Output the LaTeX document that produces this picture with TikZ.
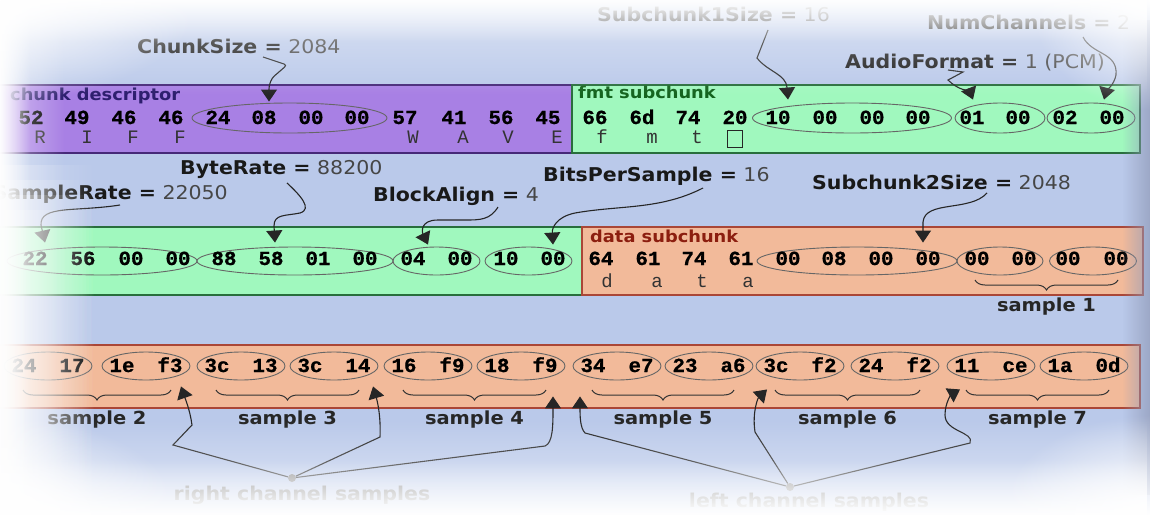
\documentclass[tikz,border=0pt]{standalone}
\usepackage{fontspec}
\usetikzlibrary{shapes.geometric,arrows.meta,decorations.pathreplacing,fadings,calc}
\newfontfamily\hexfont{Liberation Mono}
\newfontfamily\hexbold[FakeBold=0.7, FakeStretch=1.04]{Liberation Mono Bold}
\newfontfamily\lblfont[FakeStretch=1.08]{DejaVu Sans}

\definecolor{bgblue}{RGB}{186,201,234}
\definecolor{riffpurple}{RGB}{168,128,228}
\definecolor{fmtgreen}{RGB}{160,248,190}
\definecolor{datasalmon}{RGB}{242,186,154}
\definecolor{riffedge}{RGB}{70,40,120}
\definecolor{fmtedge}{RGB}{40,110,60}
\definecolor{dataedge}{RGB}{170,70,55}
\definecolor{riffink}{RGB}{45,30,110}
\definecolor{fmtink}{RGB}{20,100,30}
\definecolor{dataink}{RGB}{140,30,15}
\definecolor{valgray}{RGB}{70,70,70}
\definecolor{shadowgray}{RGB}{145,155,185}

% soft white border fadings
\tikzfading[name=fadetop, top color=transparent!0, bottom color=transparent!100]
\tikzfading[name=fadebottom, top color=transparent!100, bottom color=transparent!0]
\tikzfading[name=fadeleft, left color=transparent!0, right color=transparent!100]
\tikzfading[name=faderight, left color=transparent!100, right color=transparent!0]
\tikzfading[name=fadecorner, inner color=transparent!0, outer color=transparent!100]

\tikzset{
  box/.style={draw, line width=1.4pt, anchor=north west, inner sep=0, outer sep=0},
  hex/.style={font=\hexbold\fontsize{20}{20}\selectfont, inner sep=0, anchor=base, text=black},
  asc/.style={font=\hexfont\fontsize{19}{19}\selectfont, inner sep=0, anchor=base, text=black!80},
  fld/.style={ellipse, draw=black!60, line width=0.9pt, inner sep=0, minimum height=28},
  lbl/.style={font=\lblfont\fontsize{19}{19}\selectfont, inner sep=0, text=black!90, anchor=base west},
  hdr/.style={font=\lblfont\bfseries\fontsize{16.5}{16.5}\selectfont, inner sep=0, anchor=base west},
  smp/.style={font=\lblfont\bfseries\fontsize{18}{18}\selectfont, inner sep=0, anchor=base, text=black!85},
  chn/.style={font=\lblfont\bfseries\fontsize{19}{19}\selectfont, inner sep=0, anchor=base, text=black!60},
  conn/.style={draw=black!85, line width=1.1pt, -{Triangle[width=16pt,length=12pt]}},
  brc/.style={draw=black!80, line width=1pt, decorate, decoration={brace, mirror, amplitude=10pt}},
  dot/.style={circle, fill=black!50, inner sep=0, minimum size=8}
}

\begin{document}
\begin{tikzpicture}[x=1pt,y=-1pt]
\useasboundingbox (0,0) rectangle (1150,515);
\clip (0,0) rectangle (1150,515);
\fill[bgblue] (0,0) rectangle (1150,515);

% ---------- row 1: RIFF chunk descriptor + fmt subchunk ----------
\node[box, fill=riffpurple, draw=riffedge, minimum width=577, minimum height=68] (riff) at (-5,85) {};
\node[box, fill=fmtgreen, draw=fmtedge, minimum width=568, minimum height=68] (fmt) at (572,85) {};
\node[hdr, text=riffink] (riffhdr) at (10,100) {chunk descriptor};
\node[hdr, text=fmtink] (fmthdr) at (578,98) {fmt subchunk};

\node[fld, minimum width=195, minimum height=30] (f-chunksize) at (289.5,118) {};
\node[fld, minimum width=199, minimum height=30] (f-sub1size) at (852,118) {};
\node[fld, minimum width=90, minimum height=30] (f-audiofmt) at (1000,118) {};
\node[fld, minimum width=88, minimum height=30] (f-numch) at (1091,118) {};

\foreach \x/\t [count=\i] in {31/52, 77/49, 124/46, 171/46, 218/24, 264/08, 311/00, 357/00,
  405/57, 454/41, 501/56, 548/45, 595/66, 642/6d, 688/74, 735/20, 778/10, 825/00, 872/00,
  918/00, 972/01, 1018/00, 1065/02, 1112/00}
  \node[hex] (ra\i) at (\x,124) {\t};
\foreach \x/\t [count=\i] in {40/R, 87/I, 133/F, 180/F, 413/W, 463/A, 508/V, 557/E, 602/f, 652/m, 697/t}
  \node[asc] (rc\i) at (\x,143) {\t};
\node[draw=black!85, line width=1pt, minimum width=15, minimum height=17, inner sep=0] (spc) at (734.5,138.5) {};

\node[lbl] (chunksize) at (137,53) {\textbf{ChunkSize =} \textcolor{valgray}{2084}};
\node[lbl] (sub1size) at (597,21) {\textbf{Subchunk1Size =} \textcolor{valgray}{16}};
\node[lbl] (numch) at (927,29) {\textbf{NumChannels =} \textcolor{valgray}{2}};
\node[lbl] (audiofmt) at (845,68) {\textbf{AudioFormat =} \textcolor{valgray}{1 (PCM)}};

\draw[conn, rounded corners=3] ([shift={(126,4)}]chunksize.base west) -- (287,65) -- (272,78) -- (269,86)
  -- ([shift={(-20.5,-1)}]f-chunksize.north);
\draw[conn] ([shift={(171,9)}]sub1size.base west) -- (757,58) .. controls (768,72) and (786,74)
  .. ([shift={(-64,-3)}]f-sub1size.north);
\draw[conn] ([shift={(103,2)}]audiofmt.base west) -- (963,72) -- (948,80) .. controls (958,90) and (970,92)
  .. ([shift={(-27,-3)}]f-audiofmt.north);
\draw[conn] ([shift={(156,8)}]numch.base west) .. controls (1092,55) and (1118,52) .. (1116,75)
  .. controls (1114,85) and (1106,92) .. ([shift={(13,-3)}]f-numch.north);

% ---------- row 2: rest of fmt subchunk + data subchunk ----------
\node[box, fill=fmtgreen, draw=fmtedge, minimum width=587, minimum height=68] (fmt2) at (-5,227) {};
\node[box, fill=datasalmon, draw=dataedge, minimum width=561, minimum height=68] (data) at (582,227) {};
\node[hdr, text=dataink] (datahdr) at (590,242) {data subchunk};

\node[fld, minimum width=190] (f-samplerate) at (102,261) {};
\node[fld, minimum width=196] (f-byterate) at (295,261) {};
\node[fld, minimum width=87] (f-blockalign) at (436.5,261) {};
\node[fld, minimum width=87] (f-bitsps) at (528.5,261) {};
\node[fld, minimum width=200] (f-sub2size) at (857,261) {};
\node[fld, minimum width=86] (d1) at (1000,261) {};
\node[fld, minimum width=87] (d2) at (1093,261) {};

\foreach \x/\t [count=\i] in {35/22, 83/56, 131/00, 178/00, 224/88, 271/58, 318/01, 365/00,
  413/04, 460/00, 506/10, 553/00, 601/64, 648/61, 694/74, 741/61, 788/00, 834/08, 881/00,
  928/00, 977/00, 1024/00, 1068/00, 1116/00}
  \node[hex] (rb\i) at (\x,265) {\t};
\foreach \x/\t [count=\i] in {607/d, 657/a, 702/t, 748/a}
  \node[asc] (rd\i) at (\x,287) {\t};

\node[lbl, anchor=base east] (samplerate) at (228,199) {\textbf{SampleRate =} \textcolor{valgray}{22050}};
\node[lbl] (byterate) at (180,174) {\textbf{ByteRate =} \textcolor{valgray}{88200}};
\node[lbl] (blockalign) at (373,201) {\textbf{BlockAlign =} \textcolor{valgray}{4}};
\node[lbl] (bitsps) at (543,181) {\textbf{BitsPerSample =} \textcolor{valgray}{16}};
\node[lbl] (sub2size) at (812,189) {\textbf{Subchunk2Size =} \textcolor{valgray}{2048}};

\draw[conn] ([shift={(-108,6)}]samplerate.base east) .. controls (75,212) and (40,205) .. (41,225)
  -- ([shift={(-57,-4)}]f-samplerate.north);
\draw[conn] ([shift={(107,9)}]byterate.base west) .. controls (300,195) and (313,209) .. (300,213)
  .. controls (285,216) and (274,214) .. (274,226) -- ([shift={(-20,-4)}]f-byterate.north);
\draw[conn] ([shift={(125,6)}]blockalign.base west) .. controls (490,220) and (480,220) .. (465,220)
  -- (438,220) .. controls (420,220) and (422,232) .. ([shift={(-8.5,-2)}]f-blockalign.north);
\draw[conn] ([shift={(160,7)}]bitsps.base west) .. controls (660,210) and (620,205) .. (575,213)
  .. controls (556,217) and (552,228) .. ([shift={(24.5,-2)}]f-bitsps.north);
\draw[conn] ([shift={(175,4)}]sub2size.base west) .. controls (970,212) and (925,200) .. (923,222)
  -- ([shift={(66,-4)}]f-sub2size.north);

\draw[brc] ([shift={(-25,19)}]d1.center) -- ([shift={(25,19)}]d2.center);
\node[smp] (smp1) at ($(d1.center)!0.5!(d2.center)+(0,50)$) {sample 1};

% ---------- row 3: sample data ----------
\node[box, fill=datasalmon, draw=dataedge, minimum width=1145, minimum height=63] (samples) at (-5,345) {};

\foreach \c/\a/\b [count=\i from 0] in {48/24/17, 146/1e/f3, 241/3c/13, 334/3c/14, 428/16/f9, 521/18/f9,
  617/34/e7, 709/23/a6, 800/3c/f2, 895/24/f2, 991/11/ce, 1084/1a/0d} {
  \node[fld, minimum width=88] (s\i) at (\c,366) {};
  \node[hex] (s\i a) at (\c-24,372) {\a};
  \node[hex] (s\i b) at (\c+24,372) {\b};
}
\foreach \a/\b/\k in {0/1/2, 2/3/3, 4/5/4, 6/7/5, 8/9/6, 10/11/7} {
  \draw[brc] ([shift={(-25,24)}]s\a.center) -- ([shift={(25,24)}]s\b.center);
  \node[smp] (smp\k) at ($(s\a.center)!0.5!(s\b.center)+(0,58)$) {sample \k};
}

\node[dot] (rdot) at (292,478) {};
\node[dot] (ldot) at (790,487) {};
\node[chn] (rlabel) at (302,500) {right channel samples};
\node[chn] (llabel) at (809,507) {left channel samples};

\draw[conn] (rdot) -- (173,445) -- (192,425) .. controls (190,410) and (185,398) .. ([shift={(35,6)}]s1.south);
\draw[conn] (rdot) -- (380,437) .. controls (381,415) and (377,400) .. ([shift={(39,6)}]s3.south);
\draw[conn] (rdot) -- (545,446) .. controls (553,443) and (553,425) .. ([shift={(32,16)}]s5.south);
\draw[conn] (ldot) -- (585,433) .. controls (580,428) and (580,415) .. ([shift={(-37,16)}]s6.south);
\draw[conn] (ldot) -- (755,432) .. controls (752,412) and (758,398) .. ([shift={(-33,9)}]s8.south);
\draw[conn] (ldot) -- (970,443) .. controls (975,432) and (945,432) .. (945,415)
  .. controls (945,402) and (952,394) .. ([shift={(-31,9)}]s10.south);

% ---------- soft shadow on the right, white vignette round the edges ----------
\fill[shadowgray, fill opacity=0.75, path fading=faderight] (1122,20) rectangle (1151,495);
\fill[white, path fading=fadetop] (-1,-1) rectangle (1151,42);
\fill[white, fill opacity=0.5, path fading=fadetop] (-1,-1) rectangle (1151,95);
\fill[white, path fading=fadeleft] (-1,-1) rectangle (30,516);
\fill[white, fill opacity=0.5, path fading=fadeleft] (-1,-1) rectangle (65,516);
% the left edge whitens further towards the lower rows
\foreach \ytop in {165,180,195,210}
  \fill[white, fill opacity=0.33, path fading=fadeleft] (-1,\ytop) rectangle (95,516);
\fill[white, path fading=fadebottom] (-1,460) rectangle (1151,516);
\fill[white, fill opacity=0.6, path fading=fadebottom] (-1,420) rectangle (1151,516);
% rounded corners of the vignette
\fill[white, path fading=fadecorner] (-180,415) rectangle (180,615);
\fill[white, path fading=fadecorner] (1000,415) rectangle (1300,615);
\fill[white, path fading=fadecorner] (1030,-110) rectangle (1270,110);
\fill[white, path fading=fadecorner] (-200,-100) rectangle (200,100);
\end{tikzpicture}
\end{document}
